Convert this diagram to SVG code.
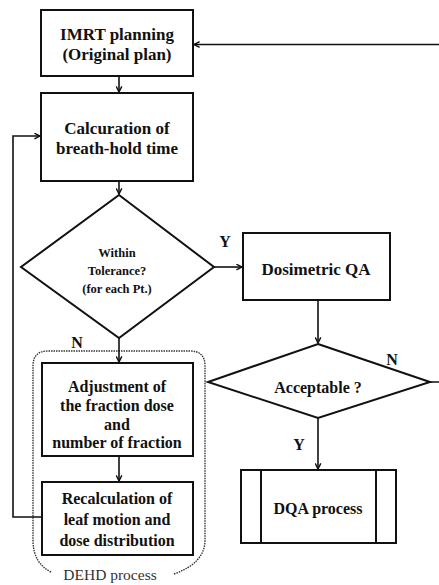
<svg xmlns="http://www.w3.org/2000/svg" width="439" height="585" viewBox="0 0 439 585">
<style>
.box{fill:#fff;stroke:#111;stroke-width:2}
text{font-family:'Liberation Serif','DejaVu Serif','Times New Roman',serif;font-weight:bold;fill:#111;text-anchor:middle}
.b17{font-size:17px}
.b16{font-size:16px}
.s13{font-size:12.5px}
.c{fill:none;stroke:#111;stroke-width:1.6}
.grp{fill:none;stroke:#333;stroke-width:1.4;stroke-dasharray:1.5 1}
</style>
<defs>
<marker id="ah" viewBox="0 0 10 10" refX="9" refY="5" markerWidth="7" markerHeight="7" orient="auto" markerUnits="userSpaceOnUse">
<path d="M1,1 L9,5 L1,9" fill="none" stroke="#111" stroke-width="2"/>
</marker>
</defs>
<rect width="439" height="585" fill="#fff"/>

<g id="dehd-group">
<path class="grp" d="M51,572 Q33,563 33,540 L33,366 Q33,351 48,351 L190,351 Q205,351 205,366 L205,540 Q205,563 174,574"/>
<text x="110" y="580" style="font-size:15.5px;font-weight:normal;fill:#333">DEHD process</text>
</g>

<g id="connectors">
<path class="c" d="M119,76 L119,92" marker-end="url(#ah)"/>
<path class="c" d="M119,181 L119,194" marker-end="url(#ah)"/>
<path class="c" d="M214,267 L242,267" marker-end="url(#ah)"/>
<path class="c" d="M318,300 L318,343" marker-end="url(#ah)"/>
<path class="c" d="M119,338 L119,362" marker-end="url(#ah)"/>
<path class="c" d="M119,456 L119,481" marker-end="url(#ah)"/>
<path class="c" d="M318,418 L318,469" marker-end="url(#ah)"/>
<path class="c" d="M42,517 L13,517 L13,136 L40,136" marker-end="url(#ah)"/>
<path class="c" d="M430,382 L441,382 L441,44.5 L194,44.5" marker-end="url(#ah)"/>
<text class="b16" x="225" y="247">Y</text>
<text class="b16" x="77" y="348">N</text>
<text class="b16" x="392" y="365">N</text>
<text class="b16" x="299" y="450">Y</text>
</g>

<g id="imrt">
<rect class="box" x="41" y="10" width="152" height="66"/>
<text class="b17" x="117" y="40">IMRT planning</text>
<text class="b17" x="117" y="60">(Original plan)</text>
</g>

<g id="calc">
<rect class="box" x="41" y="93" width="152" height="88"/>
<text class="b17" x="117" y="134">Calcuration of</text>
<text class="b17" x="117" y="154">breath-hold time</text>
</g>

<g id="tolerance">
<polygon class="box" points="119,195 214,267 119,338 21,267"/>
<text class="s13" x="117" y="257">Within</text>
<text class="s13" x="117" y="275">Tolerance?</text>
<text class="s13" x="117" y="293">(for each Pt.)</text>
</g>

<g id="dosimetric">
<rect class="box" x="243" y="233" width="147" height="67"/>
<text class="b17" x="316" y="275">Dosimetric QA</text>
</g>

<g id="acceptable">
<polygon class="box" points="318,344 430,382 318,418 208,382"/>
<text class="b16" x="318" y="393">Acceptable ?</text>
</g>

<g id="adjust">
<rect class="box" x="42" y="363" width="151" height="93"/>
<text class="b16" x="117" y="392">Adjustment of</text>
<text class="b16" x="117" y="411">the fraction dose</text>
<text class="b16" x="117" y="430">and</text>
<text class="b16" x="117" y="448">number of fraction</text>
</g>

<g id="recalc">
<rect class="box" x="42" y="482" width="151" height="73"/>
<text class="b16" x="117" y="504">Recalculation of</text>
<text class="b16" x="117" y="525">leaf motion and</text>
<text class="b16" x="117" y="546">dose distribution</text>
</g>

<g id="dqa">
<rect class="box" x="241" y="470" width="155" height="73"/>
<line class="box" x1="261" y1="470" x2="261" y2="543"/>
<line class="box" x1="376" y1="470" x2="376" y2="543"/>
<text class="b16" x="318" y="514">DQA process</text>
</g>
</svg>
